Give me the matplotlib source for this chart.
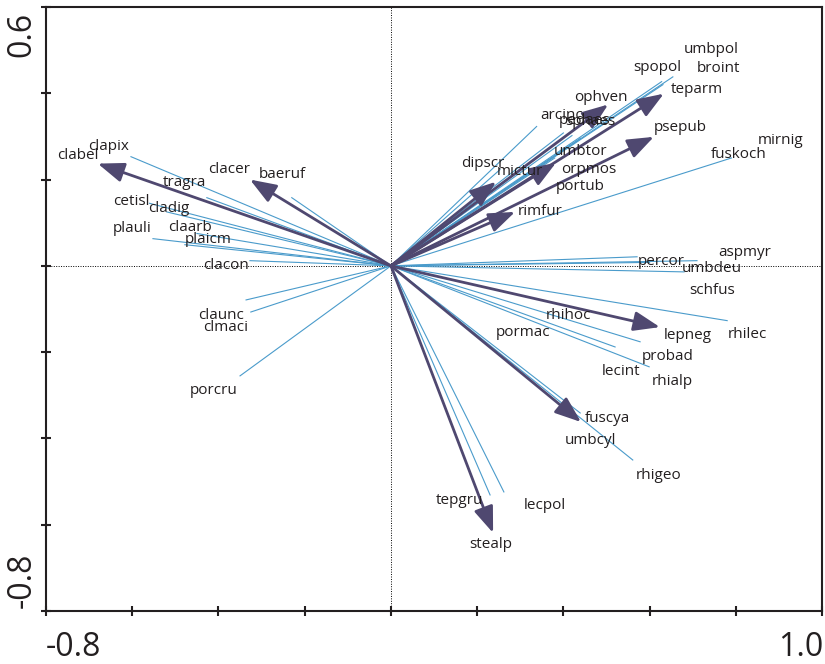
import matplotlib.pyplot as plt
from matplotlib.patches import FancyArrowPatch

plt.rcParams['font.family'] = ['Open Sans', 'DejaVu Sans']

# thick arrows (environmental / supplementary variables)
arrow_x = [-0.680, -0.327, 0.244, 0.383, 0.504, 0.633, 0.610, 0.288, 0.624, 0.441, 0.237]
arrow_y = [0.237, 0.200, 0.195, 0.239, 0.374, 0.399, 0.299, 0.125, -0.142, -0.362, -0.619]

# thin species lines
line_x = [-0.603, -0.427, -0.230, -0.560, -0.520, -0.552, -0.450, -0.478, -0.327, -0.336, -0.325, -0.350,
          0.338, 0.400, 0.420, 0.440, 0.654, 0.628, 0.631, 0.253, 0.380, 0.790,
          0.571, 0.710, 0.680, 0.600, 0.780, 0.578, 0.520, 0.599, 0.439, 0.561, 0.230, 0.262]
line_y = [0.253, 0.158, 0.158, 0.145, 0.125, 0.063, 0.075, 0.049, 0.012, -0.079, -0.107, -0.255,
          0.323, 0.308, 0.302, 0.296, 0.438, 0.427, 0.420, 0.223, 0.250, 0.250,
          0.021, 0.012, -0.014, 0.008, -0.127, -0.176, -0.188, -0.234, -0.341, -0.450, -0.531, -0.524]

# labels (text centre)
labels = ['clabel', 'clapix', 'clacer', 'baeruf', 'tragra', 'cetisl', 'cladig', 'plauli', 'claarb',
          'plaicm', 'clacon', 'claunc', 'clmaci', 'porcru',
          'umbpol', 'spopol', 'broint', 'teparm', 'ophven', 'arcinc', 'pedaes', 'sphaes', 'psepub',
          'mirnig', 'fuskoch', 'umbtor', 'dipscr', 'mictur', 'orpmos', 'portub', 'rimfur',
          'aspmyr', 'percor', 'umbdeu', 'schfus', 'rhihoc', 'pormac', 'lepneg', 'rhilec', 'probad',
          'lecint', 'rhialp', 'fuscya', 'umbcyl', 'rhigeo', 'tepgru', 'lecpol', 'stealp']
label_x = [-0.726, -0.656, -0.376, -0.251, -0.480, -0.603, -0.515, -0.601, -0.467,
           -0.425, -0.383, -0.394, -0.383, -0.411,
           0.742, 0.619, 0.761, 0.710, 0.487, 0.397, 0.450, 0.462, 0.671,
           0.905, 0.807, 0.439, 0.213, 0.299, 0.460, 0.439, 0.346,
           0.821, 0.626, 0.745, 0.745, 0.411, 0.306, 0.689, 0.828, 0.643,
           0.534, 0.652, 0.503, 0.462, 0.622, 0.160, 0.357, 0.232]
label_y = [0.255, 0.276, 0.223, 0.211, 0.193, 0.148, 0.132, 0.086, 0.088,
           0.060, 0.000, -0.114, -0.144, -0.290,
           0.501, 0.459, 0.457, 0.408, 0.390, 0.348, 0.336, 0.334, 0.320,
           0.290, 0.258, 0.265, 0.237, 0.218, 0.223, 0.183, 0.125,
           0.032, 0.009, -0.005, -0.058, -0.116, -0.155, -0.162, -0.160, -0.211,
           -0.244, -0.269, -0.353, -0.404, -0.485, -0.543, -0.555, -0.647]

arrow_col = '#4f4870'
line_col = '#4a9bcb'
ink = '#231f20'

fig = plt.figure(figsize=(8.25, 6.64), dpi=100)
ax = fig.add_axes([0.0558, 0.0798, 0.9406, 0.9097])
ax.set_xlim(-0.8, 1.0)
ax.set_ylim(-0.8, 0.6)

ax.axhline(0, color='black', lw=0.7, ls=(0, (1, 1.5)), zorder=1)
ax.axvline(0, color='black', lw=0.7, ls=(0, (1, 1.5)), zorder=1)

for x, y in zip(line_x, line_y):
    ax.plot([0, x], [0, y], color=line_col, lw=0.8, zorder=2)

for x, y in zip(arrow_x, arrow_y):
    ax.add_patch(FancyArrowPatch((0, 0), (x, y), arrowstyle='-|>,head_length=1.6,head_width=0.6',
                                 mutation_scale=10, color=arrow_col, lw=2.0,
                                 shrinkA=0, shrinkB=0, zorder=3))

for t, x, y in zip(labels, label_x, label_y):
    ax.text(x, y, t, fontsize=11, color=ink, ha='center', va='center', zorder=4)

ax.set_xticks([-0.8, -0.6, -0.4, -0.2, 0.0, 0.2, 0.4, 0.6, 0.8, 1.0])
ax.set_yticks([-0.8, -0.6, -0.4, -0.2, 0.0, 0.2, 0.4, 0.6])
ax.set_xticklabels([])
ax.set_yticklabels([])
ax.tick_params(direction='inout', length=7, width=1.5, color=ink)
for s in ax.spines.values():
    s.set_linewidth(1.5)
    s.set_color(ink)

# end labels only, as in the original figure
fig.text(46 / 825, 1 - 647 / 664, '-0.8', fontsize=23, ha='left', va='center', color=ink)
fig.text(823 / 825, 1 - 647 / 664, '1.0', fontsize=23, ha='right', va='center', color=ink)
fig.text(22 / 825, 1 - 34 / 664, '0.6', fontsize=23, ha='center', va='center', rotation=90, color=ink)
fig.text(22 / 825, 1 - 580 / 664, '-0.8', fontsize=23, ha='center', va='center', rotation=90, color=ink)

fig.savefig('out.png', dpi=100)
